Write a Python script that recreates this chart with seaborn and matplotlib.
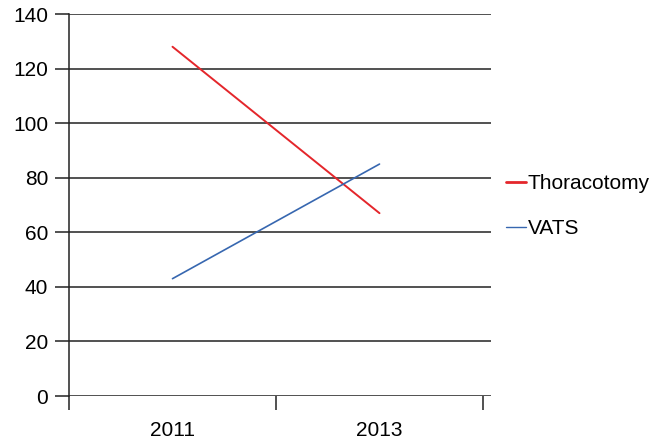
import pandas as pd
import seaborn as sns
import matplotlib
matplotlib.use("Agg")
import matplotlib.pyplot as plt
from matplotlib.ticker import FixedLocator, NullFormatter, FixedFormatter

years = ["2011", "2013"]
thoracotomy = [128, 67]
vats = [43, 85]

df = pd.DataFrame({
    "year": years * 2,
    "count": thoracotomy + vats,
    "group": ["Thoracotomy"] * 2 + ["VATS"] * 2,
})

sns.set_style("white")
plt.rcParams["font.family"] = ["Liberation Sans", "DejaVu Sans"]
plt.rcParams["text.color"] = "black"
plt.rcParams["xtick.labelcolor"] = "black"
plt.rcParams["ytick.labelcolor"] = "black"

fig = plt.figure(figsize=(6.58, 4.44), dpi=100)
ax = fig.add_axes([69 / 658, 1 - 396 / 444, (491 - 69) / 658, (396 - 14) / 444])

palette = {"Thoracotomy": "#e4262b", "VATS": "#3767b0"}
sns.lineplot(data=df, x="year", y="count", hue="group", palette=palette,
             ax=ax, legend=False, linewidth=1.2)
for line in ax.lines:
    if line.get_color() == "#e4262b":
        line.set_linewidth(1.4)

ax.set_ylim(0, 140)
ax.set_xlim(-0.5, 1.5 + 8 / 207)
ax.set_yticks(range(0, 141, 20))
ax.yaxis.grid(True, color="#222222", linewidth=1.1)
ax.tick_params(axis="y", left=True, length=10, width=1.1, color="#222222", pad=5,
               labelsize=15, labelcolor="black")
for lab in ax.get_yticklabels():
    lab.set_verticalalignment("center_baseline")

ax.xaxis.set_major_locator(FixedLocator([-0.5, 0.5, 1.5]))
ax.xaxis.set_major_formatter(NullFormatter())
ax.xaxis.set_minor_locator(FixedLocator([0, 1]))
ax.xaxis.set_minor_formatter(FixedFormatter(years))
ax.tick_params(axis="x", which="major", length=10, width=1.1, color="#222222", direction="out", bottom=True)
ax.tick_params(axis="x", which="minor", length=0, pad=18, labelsize=15, labelcolor="black")
ax.set_xlabel("")
ax.set_ylabel("")

for s in ["top", "right", "bottom"]:
    ax.spines[s].set_visible(False)
ax.spines["left"].set_color("#222222")
ax.spines["left"].set_linewidth(1.1)

h1, = ax.plot([], [], color="#e4262b", lw=2)
h2, = ax.plot([], [], color="#3767b0", lw=1)
fig.legend([h1, h2], ["Thoracotomy", "VATS"], loc="center left",
           bbox_to_anchor=(487 / 658, 1 - 206 / 444), frameon=False,
           fontsize=15, handlelength=0.95, handletextpad=0.1, labelspacing=1.25,
           labelcolor="black")

fig.savefig("out.png", dpi=100)
